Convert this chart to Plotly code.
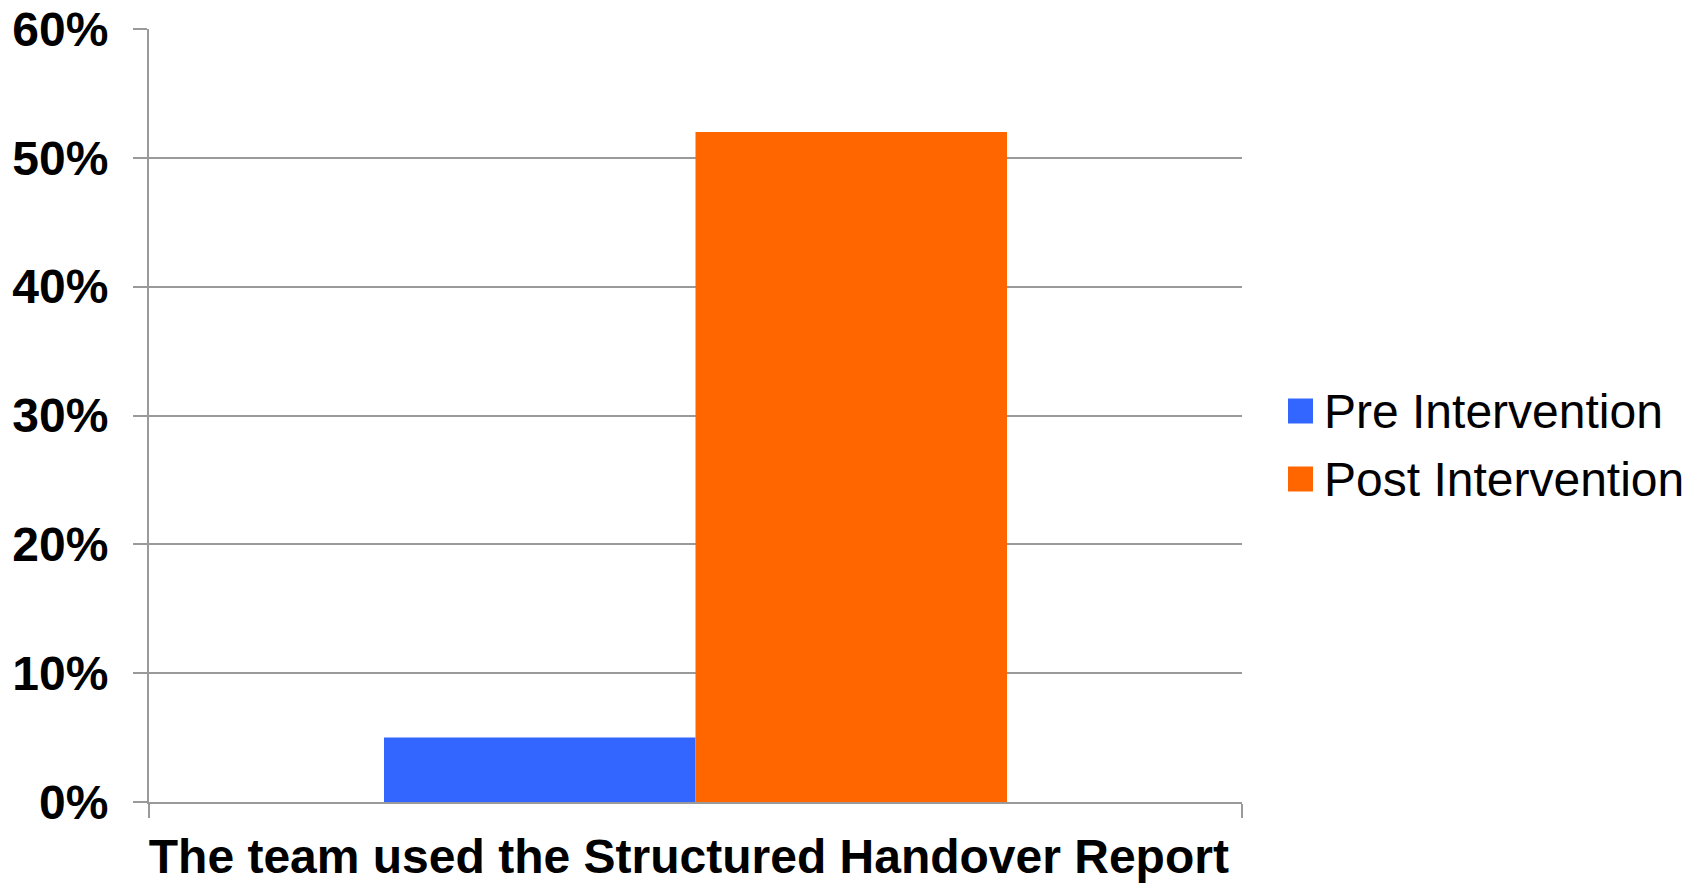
import plotly.graph_objects as go

# Survey result: share of handovers that used the structured report
categories = ["The team used the Structured Handover Report"]
series_names = ["Pre Intervention", "Post Intervention"]
pre_values = [0.05]
post_values = [0.52]
series_values = [pre_values, post_values]
series_colors = ["#3366FF", "#FF6600"]
y_tick_values = [0.0, 0.1, 0.2, 0.3, 0.4, 0.5, 0.6]

FONT = "Liberation Sans, Arial, Helvetica, sans-serif"
GRID = "#9a9a9a"

W, H = 1700, 884
M_L, M_R, M_T, M_B = 149, 458, 29, 82
PLOT_W = W - M_L - M_R
PLOT_H = H - M_T - M_B

fig = go.Figure()
for name, vals, color in zip(series_names, series_values, series_colors):
    fig.add_trace(go.Bar(
        x=categories, y=vals, name=name,
        marker=dict(color=color, line=dict(width=0)),
        showlegend=False,
    ))

fig.update_layout(
    width=W, height=H,
    margin=dict(l=M_L, r=M_R, t=M_T, b=M_B, pad=0, autoexpand=False),
    paper_bgcolor="white", plot_bgcolor="white",
    barmode="group", bargap=0.43, bargroupgap=0,
    font=dict(family=FONT, color="black"),
)

fig.update_xaxes(
    type="category", range=[-0.5, 0.5], automargin=False,
    tickvals=categories,
    # trailing no-break space nudges the centred label slightly left
    ticktext=[c + "\u00a0" for c in categories],
    tickangle=0,
    showline=True, linecolor=GRID, linewidth=2,
    ticks="outside", tickson="boundaries", ticklen=14, tickwidth=2, tickcolor=GRID,
    showgrid=False,
    tickfont=dict(family=FONT, size=48, color="black", weight="bold"),
    ticklabelstandoff=11,
)
fig.update_yaxes(
    range=[0, 0.6], tickvals=y_tick_values, tickformat=".0%", automargin=False,
    showline=True, linecolor=GRID, linewidth=2,
    ticks="outside", ticklen=14, tickwidth=2, tickcolor=GRID,
    showgrid=True, gridcolor=GRID, gridwidth=2,
    zeroline=False,
    tickfont=dict(family=FONT, size=48, color="black", weight="bold"),
    ticklabelstandoff=15,
)

# Legend drawn as swatch + label pairs to the right of the plot
def px_to_paper_x(px):
    return (px - M_L) / PLOT_W

def px_to_paper_y(py):
    return (H - M_B - py) / PLOT_H

legend_left, legend_top_center, legend_step = 1288, 411, 68
for i, (name, color) in enumerate(zip(series_names, series_colors)):
    cy = px_to_paper_y(legend_top_center + i * legend_step)
    fig.add_shape(
        type="rect", xref="paper", yref="paper",
        xsizemode="pixel", ysizemode="pixel",
        xanchor=px_to_paper_x(legend_left), yanchor=cy,
        x0=0, x1=25, y0=-12.5, y1=12.5,
        fillcolor=color, line=dict(width=0),
    )
    fig.add_annotation(
        xref="paper", yref="paper",
        x=px_to_paper_x(legend_left + 34), y=cy,
        xanchor="left", yanchor="middle",
        text=name, showarrow=False,
        font=dict(family=FONT, size=48, color="black"),
    )

fig.write_html("out.html")
